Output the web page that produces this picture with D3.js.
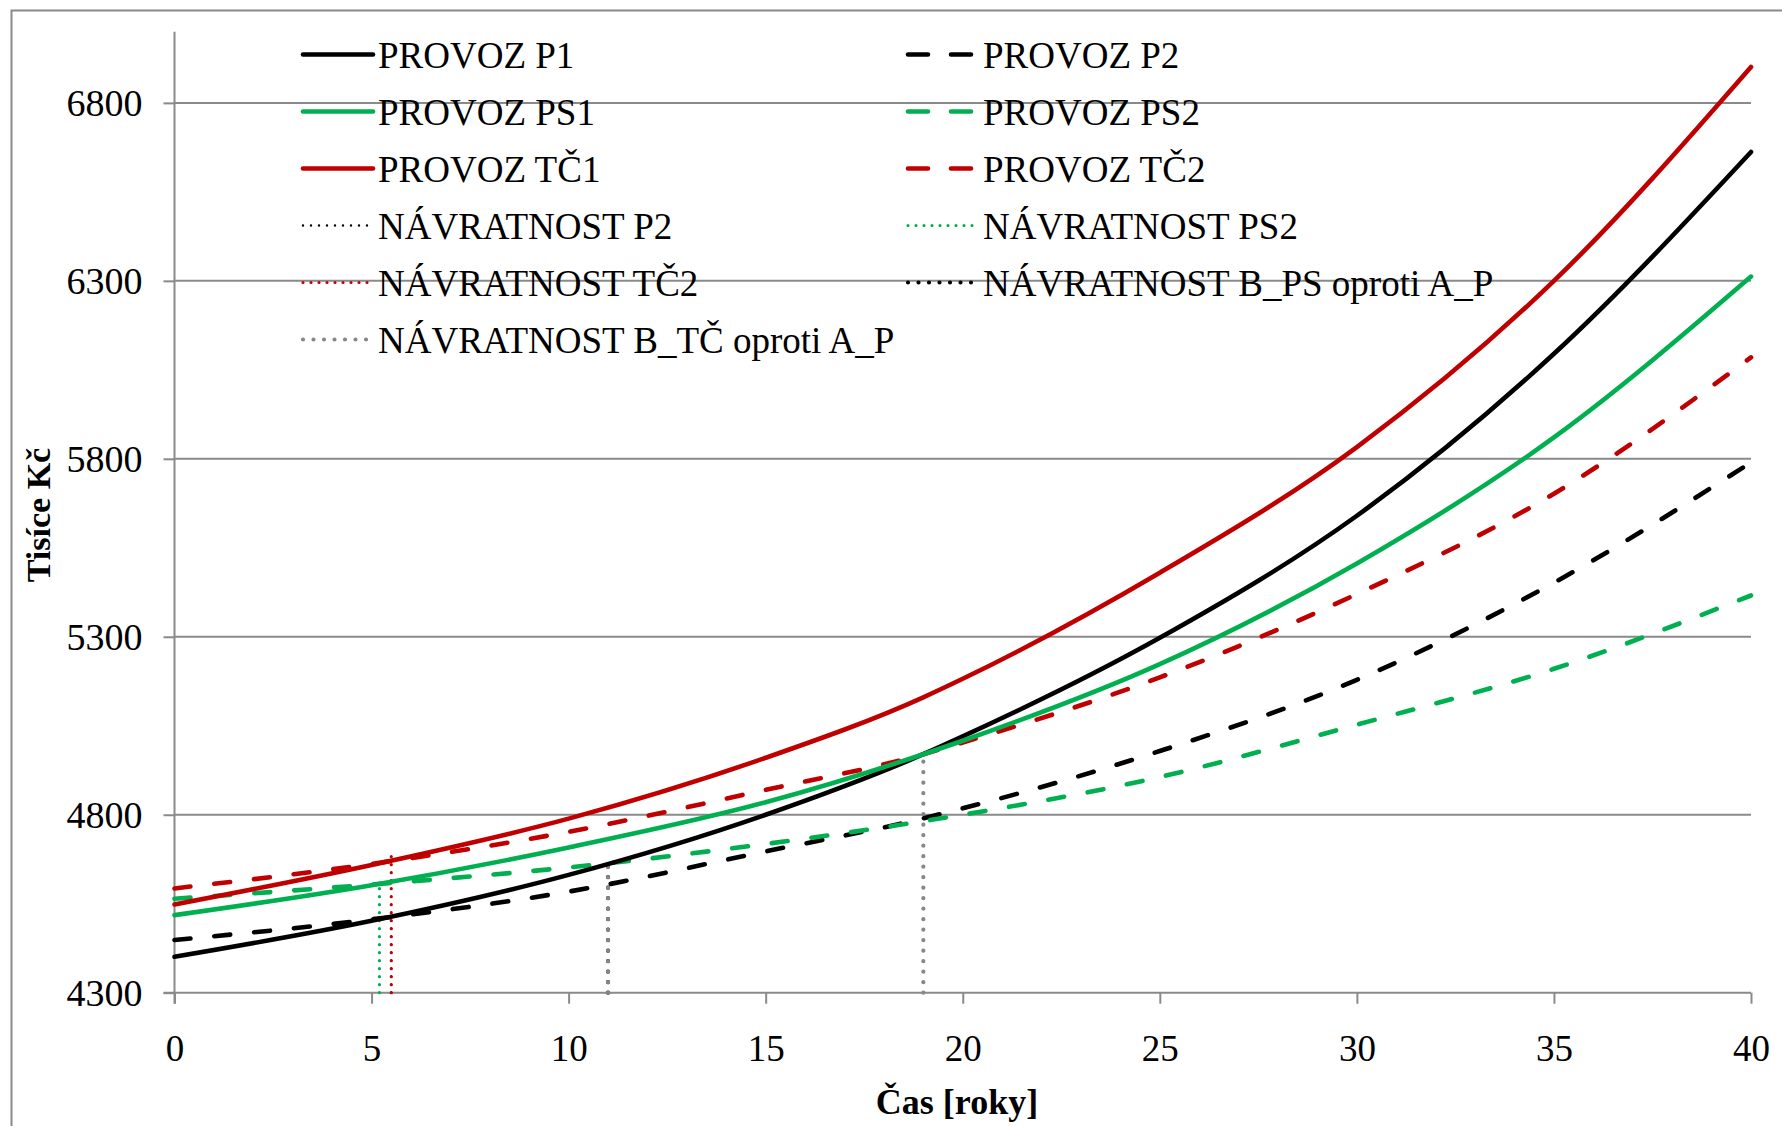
<!DOCTYPE html>
<html>
<head>
<meta charset="utf-8">
<script src="https://cdn.jsdelivr.net/npm/d3@7"></script>
<style>
  html, body { margin: 0; padding: 0; background: #fff; }
  svg { display: block; font-family: "Liberation Serif", "Times New Roman", serif; }
</style>
</head>
<body>
<svg id="chart" width="1782" height="1126"></svg>
<script>
// Operating cost over time, thousands of CZK
const years      = [0, 5, 10, 15, 19, 20, 25, 30, 35, 40];
const provozP1   = [4401, 4502, 4631, 4800, 4970, 5020, 5297, 5640, 6095, 6662];
const provozP2   = [4448, 4506, 4584, 4697, 4790, 4818, 4979, 5179, 5452, 5790];
const provozPS1  = [4518, 4602, 4708, 4835, 4970, 5008, 5223, 5506, 5860, 6312];
const provozPS2  = [4564, 4604, 4652, 4718, 4782, 4800, 4906, 5053, 5210, 5416];
const provozTC1  = [4548, 4659, 4789, 4960, 5130, 5182, 5480, 5833, 6300, 6901];
const provozTC2  = [4593, 4662, 4752, 4870, 4970, 5003, 5186, 5420, 5702, 6085];

// Payback markers: vertical segments [year, from, to]
const navratnostP2   = [[5.5, 4300, 4511]];
const navratnostPS2  = [[5.2, 4300, 4606]];
const navratnostTC2  = [[5.5, 4300, 4690]];
const navratnostBPS  = [[11.0, 4300, 4656]];
const navratnostBTC  = [[11.0, 4300, 4656], [19.0, 4300, 4972]];

const xTicks = [0, 5, 10, 15, 20, 25, 30, 35, 40];
const yTicks = [4300, 4800, 5300, 5800, 6300, 6800];
const yDomain = [4300, 7000];

const legendLabels = [
  "PROVOZ P1", "PROVOZ P2",
  "PROVOZ PS1", "PROVOZ PS2",
  "PROVOZ TČ1", "PROVOZ TČ2",
  "NÁVRATNOST P2", "NÁVRATNOST PS2",
  "NÁVRATNOST TČ2", "NÁVRATNOST B_PS oproti A_P",
  "NÁVRATNOST B_TČ oproti A_P"
];

const BLACK = "#000000", GREEN = "#00B050", RED = "#C00000", GREY = "#878787";
const AXIS = "#8a8a8a";

const styles = {
  solid:  { w: 4.6, dash: null },
  dashed: { w: 4.6, dash: "16 24" },
  fine:   { w: 2.4, dash: "0 8" },
  dots:   { w: 3.2, dash: "0 8" },
  round:  { w: 4.2, dash: "0 10.5" }
};

const lineSeries = [
  { label: legendLabels[0],  values: provozP1,  color: BLACK, style: "solid" },
  { label: legendLabels[1],  values: provozP2,  color: BLACK, style: "dashed" },
  { label: legendLabels[2],  values: provozPS1, color: GREEN, style: "solid" },
  { label: legendLabels[3],  values: provozPS2, color: GREEN, style: "dashed" },
  { label: legendLabels[4],  values: provozTC1, color: RED,   style: "solid" },
  { label: legendLabels[5],  values: provozTC2, color: RED,   style: "dashed" }
];

const markerSeries = [
  { label: legendLabels[6],  segs: navratnostP2,  color: BLACK, style: "fine" },
  { label: legendLabels[7],  segs: navratnostPS2, color: GREEN, style: "dots" },
  { label: legendLabels[8],  segs: navratnostTC2, color: RED,   style: "dots" },
  { label: legendLabels[9],  segs: navratnostBPS, color: BLACK, style: "round" },
  { label: legendLabels[10], segs: navratnostBTC, color: GREY,  style: "round" }
];

const svg = d3.select("#chart");

const plot = { left: 174.5, right: 1751, top: 31.7, bottom: 992.7 };

const x = d3.scaleLinear().domain([0, 40]).range([plot.left, plot.right]);
const y = d3.scaleLinear().domain(yDomain).range([plot.bottom, plot.top]);

// outer chart frame (runs off the right and bottom edges)
svg.append("rect")
  .attr("x", 11.5).attr("y", 10.5)
  .attr("width", 1830).attr("height", 1200)
  .attr("fill", "none").attr("stroke", AXIS).attr("stroke-width", 2);

// horizontal gridlines
svg.append("g")
  .selectAll("line")
  .data(yTicks.slice(1))
  .join("line")
  .attr("x1", plot.left).attr("x2", plot.right)
  .attr("y1", d => y(d)).attr("y2", d => y(d))
  .attr("stroke", AXIS).attr("stroke-width", 2);

// y axis
const yAxis = svg.append("g")
  .attr("transform", `translate(${plot.left},0)`)
  .call(d3.axisLeft(y).tickValues(yTicks).tickSize(11).tickPadding(21).tickFormat(d3.format("d")));
yAxis.select(".domain").remove();
yAxis.append("line")
  .attr("x1", 0).attr("x2", 0)
  .attr("y1", plot.top).attr("y2", plot.bottom + 11)
  .attr("stroke", AXIS).attr("stroke-width", 2);
yAxis.selectAll(".tick line").attr("stroke", AXIS).attr("stroke-width", 2);
yAxis.selectAll(".tick text")
  .attr("fill", "#000").attr("font-size", 38)
  .attr("font-family", "Liberation Serif, Times New Roman, serif")
  .attr("dy", "0.34em");

// x axis
const xAxis = svg.append("g")
  .attr("transform", `translate(0,${plot.bottom})`)
  .call(d3.axisBottom(x).tickValues(xTicks).tickSize(11).tickPadding(31).tickFormat(d3.format("d")));
xAxis.select(".domain").remove();
xAxis.append("line")
  .attr("x1", plot.left - 11).attr("x2", plot.right)
  .attr("y1", 0).attr("y2", 0)
  .attr("stroke", AXIS).attr("stroke-width", 2);
xAxis.selectAll(".tick line").attr("stroke", AXIS).attr("stroke-width", 2);
xAxis.selectAll(".tick text")
  .attr("fill", "#000").attr("font-size", 37)
  .attr("font-family", "Liberation Serif, Times New Roman, serif")
  .attr("dy", "0.71em");

// axis titles
svg.append("text")
  .attr("transform", "translate(50,515) rotate(-90)")
  .attr("text-anchor", "middle")
  .attr("font-size", 34).attr("font-weight", "bold")
  .text("Tisíce Kč");

svg.append("text")
  .attr("x", 957).attr("y", 1114)
  .attr("text-anchor", "middle")
  .attr("font-size", 36).attr("font-weight", "bold")
  .text("Čas [roky]");

function applyStyle(sel, color, styleName) {
  const s = styles[styleName];
  sel.attr("fill", "none")
    .attr("stroke", color)
    .attr("stroke-width", s.w)
    .attr("stroke-linecap", "round")
    .attr("stroke-linejoin", "round");
  if (s.dash) sel.attr("stroke-dasharray", s.dash);
  return sel;
}

// payback markers (drawn beneath the curves, overlapped ones first)
const markerOrder = [0, 3, 1, 2, 4];
const gMarkers = svg.append("g");
markerOrder.forEach(i => {
  const m = markerSeries[i];
  m.segs.forEach(seg => {
    const ln = gMarkers.append("line")
      .attr("x1", x(seg[0])).attr("x2", x(seg[0]))
      .attr("y1", y(seg[1])).attr("y2", y(seg[2]));
    applyStyle(ln, m.color, m.style);
  });
});

// cost curves
const line = d3.line()
  .x((d, i) => x(years[i]))
  .y(d => y(d))
  .curve(d3.curveMonotoneX);

const drawOrder = [1, 3, 5, 0, 2, 4];
const gLines = svg.append("g");
drawOrder.forEach(i => {
  const s = lineSeries[i];
  const p = gLines.append("path").attr("d", line(s.values));
  applyStyle(p, s.color, s.style);
});

// legend: two columns, row-major order
const legendItems = [];
for (let i = 0; i < 3; i++) {
  legendItems.push(lineSeries[2 * i], lineSeries[2 * i + 1]);
}
markerSeries.forEach(m => legendItems.push(m));

const legendCols = [303, 908];
const legendRow0 = 54.5, legendStep = 57, sampleLen = 70;
const gLegend = svg.append("g");
legendItems.forEach((item, i) => {
  const col = i % 2, row = Math.floor(i / 2);
  const lx = legendCols[col], ly = legendRow0 + row * legendStep;
  const sample = gLegend.append("line")
    .attr("x1", lx).attr("x2", lx + sampleLen)
    .attr("y1", ly).attr("y2", ly);
  applyStyle(sample, item.color, item.style);
  if (item.style === "dashed") sample.attr("stroke-dasharray", "20 23");
  gLegend.append("text")
    .attr("x", lx + 75).attr("y", ly + 13.5)
    .attr("font-size", 37)
    .attr("fill", "#000")
    .text(item.label);
});
</script>
</body>
</html>
